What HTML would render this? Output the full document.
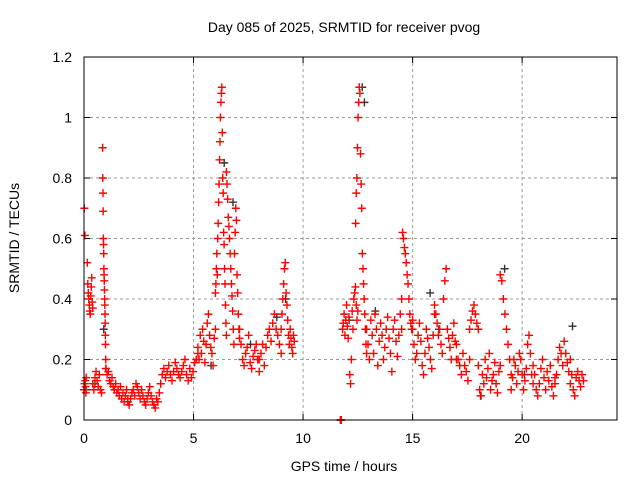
<!DOCTYPE html>
<html><head><meta charset="utf-8"><style>
body{margin:0;background:#fff}
svg{display:block;font-family:"Liberation Sans",sans-serif}
</style></head><body>
<svg id="chart" width="640" height="480">
<text x="344" y="32" font-size="14" text-anchor="middle">Day 085 of 2025, SRMTID for receiver pvog</text>
<text x="344" y="471" font-size="14" text-anchor="middle">GPS time / hours</text>
<text transform="translate(19,238) rotate(-90)" font-size="14" text-anchor="middle">SRMTID / TECUs</text>
<g id="grid"></g><g id="ticks"></g><g id="marks"></g>
<rect x="84" y="57" width="533" height="363" fill="none" stroke="#000" stroke-width="1"/>
</svg>
<script>
const xTicks=[0,5,10,15,20];
const yTicks=[0,0.2,0.4,0.6,0.8,1,1.2];
const yTickLabels=["0","0.2","0.4","0.6","0.8","1","1.2"];
const segStart=[0,0.15,0.4,0.85,1.0,2.0,3.5,5.2,6.0,6.5,7.1,8.0,9.0,11.7,11.8,12.4,12.9,14.5,15.0,16.0,17.0,17.6,18.0,19.0,19.5,20.5,21.5,22.2];
const segEnd=[0.1,0.4,0.8,1.0,2.0,3.5,5.2,6.0,6.5,7.1,8.0,9.0,9.6,11.75,12.5,12.9,14.5,15.0,16.0,17.0,17.6,18.0,19.0,19.5,20.5,21.5,22.2,22.8];
const segVals=[
[0.1,0.7,0.12,0.61,0.13,0.11,0.09,0.14],
[0.52,0.45,0.42,0.4,0.38,0.36,0.35,0.41,0.44,0.47,0.39,0.37],
[0.12,0.1,0.14,0.16,0.13,0.11,0.15,0.1,0.09],
[0.9,0.8,0.75,0.69,0.6,0.58,0.55,0.5,0.48,0.46,0.43,0.4,0.38,0.35,0.32,0.28,0.25,0.2,0.17],
[0.17,0.15,0.16,0.13,0.12,0.14,0.11,0.1,0.12,0.09,0.1,0.08,0.11,0.07,0.09,0.06,0.08,0.1,0.07],
[0.06,0.05,0.07,0.09,0.1,0.08,0.12,0.11,0.09,0.07,0.1,0.08,0.06,0.05,0.07,0.09,0.11,0.08,0.06,0.05,0.04,0.07,0.06,0.09,0.12],
[0.12,0.15,0.17,0.14,0.16,0.18,0.15,0.13,0.16,0.19,0.17,0.15,0.14,0.16,0.18,0.2,0.15,0.13,0.17,0.14,0.16,0.19,0.2,0.22],
[0.24,0.2,0.28,0.22,0.3,0.26,0.19,0.25,0.32,0.35,0.28,0.24,0.22,0.18,0.27,0.3],
[0.42,0.45,0.5,0.55,0.48,0.6,0.65,0.72,0.78,0.86,0.92,1.0,1.05,1.08,1.1,0.95,0.8,0.75,0.62,0.58,0.5,0.45,0.38,0.32,0.28],
[0.82,0.78,0.73,0.67,0.64,0.6,0.55,0.5,0.45,0.41,0.36,0.3,0.25,0.55,0.62,0.7,0.66,0.48,0.42,0.35,0.3,0.27],
[0.3,0.25,0.2,0.18,0.22,0.24,0.28,0.19,0.17,0.21,0.23,0.25,0.2,0.16],
[0.2,0.22,0.25,0.18,0.24,0.28,0.3,0.26,0.32,0.35,0.3,0.28,0.25,0.22],
[0.3,0.35,0.4,0.45,0.5,0.52,0.42,0.38,0.33,0.28,0.25,0.3,0.27,0.24,0.22,0.28,0.26],
[0,0,0],
[0.3,0.32,0.35,0.28,0.33,0.38,0.31,0.27,0.34,0.15,0.12,0.2,0.36,0.3,0.4,0.42,0.44,0.38,0.33,0.36],
[0.65,0.75,0.8,0.9,1.0,1.05,1.1,1.08,0.88,0.78,0.7,0.55,0.5,0.45,0.4,0.35,0.3,0.25,0.22],
[0.3,0.25,0.2,0.33,0.28,0.22,0.35,0.3,0.18,0.26,0.32,0.28,0.2,0.24,0.3,0.34,0.27,0.22,0.16,0.3,0.33,0.26,0.21,0.28,0.35,0.3],
[0.4,0.62,0.6,0.57,0.55,0.52,0.48,0.45,0.4,0.35,0.32,0.3,0.33],
[0.3,0.25,0.2,0.22,0.28,0.32,0.26,0.18,0.15,0.22,0.3,0.27,0.24,0.2,0.17,0.28,0.35],
[0.38,0.35,0.32,0.28,0.3,0.25,0.22,0.4,0.46,0.5,0.3,0.27,0.24,0.2,0.28,0.32,0.26,0.2],
[0.25,0.2,0.18,0.15,0.22,0.18,0.16,0.13,0.2],
[0.3,0.33,0.36,0.38,0.35,0.32,0.3],
[0.18,0.1,0.08,0.15,0.12,0.2,0.14,0.17,0.22,0.1,0.13,0.15,0.19,0.12,0.09,0.16,0.18],
[0.48,0.46,0.4,0.35,0.3,0.25,0.2,0.15],
[0.1,0.14,0.2,0.18,0.12,0.16,0.22,0.2,0.15,0.1,0.13,0.17,0.25,0.28,0.22,0.15,0.12],
[0.18,0.15,0.1,0.08,0.12,0.17,0.2,0.14,0.1,0.16,0.13,0.18,0.11,0.08,0.14],
[0.12,0.15,0.2,0.24,0.22,0.18,0.26,0.22,0.19,0.16,0.2],
[0.12,0.15,0.1,0.08,0.14,0.16,0.13,0.11,0.15,0.13]
];
const grayTimes=[0.1,0.5,0.9,5.8,6.4,6.8,7.6,8.8,9.2,12.1,12.7,12.8,13.3,15.8,16.2,18.1,19.2,20.1,22.3];
const grayVals=[0.1,0.12,0.3,0.18,0.85,0.72,0.25,0.34,0.4,0.33,1.1,1.05,0.36,0.42,0.3,0.08,0.5,0.15,0.31];
const X0=84,X1=617,Y0=420,Y1=57,XMAX=24.33,YMAX=1.2;
const xs=v=>X0+v/XMAX*(X1-X0);
const ys=v=>Y0-v/YMAX*(Y0-Y1);
const NS="http://www.w3.org/2000/svg";
const grid=document.getElementById('grid'),ticks=document.getElementById('ticks'),marks=document.getElementById('marks');
function mk(tag,a,p){const e=document.createElementNS(NS,tag);for(const k in a)e.setAttribute(k,a[k]);p.appendChild(e);return e;}
xTicks.forEach(t=>{const x=xs(t);
 if(t>0){const g=mk('line',{x1:x,y1:Y0,x2:x,y2:Y1,stroke:'#999','stroke-dasharray':'3,3'},grid);
 
 }
 const l=mk('text',{x:x,y:Y0+23,'font-size':14,'text-anchor':'middle'},ticks);l.textContent=t;
 
 
 mk('line',{x1:x,y1:Y0,x2:x,y2:Y0-6,stroke:'#000'},ticks);mk('line',{x1:x,y1:Y1,x2:x,y2:Y1+6,stroke:'#000'},ticks);});
yTicks.forEach((t,i)=>{const y=ys(t);
 if(t>0&&t<YMAX){const g=mk('line',{x1:X0,y1:y,x2:X1,y2:y,stroke:'#999','stroke-dasharray':'3,3'},grid);
 
 }
 const l=mk('text',{x:X0-12,y:y+5,'font-size':14,'text-anchor':'end'},ticks);l.textContent=yTickLabels[i];
 
 
 mk('line',{x1:X0,y1:y,x2:X0+6,y2:y,stroke:'#000'},ticks);mk('line',{x1:X1,y1:y,x2:X1-6,y2:y,stroke:'#000'},ticks);});
function cross(t,v,col,nm){const x=xs(t),y=ys(v);
 const p=mk('path',{d:`M${x-4},${y}h8M${x},${y-4}v8`,stroke:col,'stroke-width':1.4,fill:'none'},marks);
 
 }
grayTimes.forEach((t,i)=>cross(t,grayVals[i],'#333','gray-point'));
segVals.forEach((vals,s)=>{const n=vals.length;vals.forEach((v,i)=>{
 const t=n>1?segStart[s]+(segEnd[s]-segStart[s])*i/(n-1):segStart[s];
 cross(t,v,'#f00','red-point');});});
</script>
</body></html>
